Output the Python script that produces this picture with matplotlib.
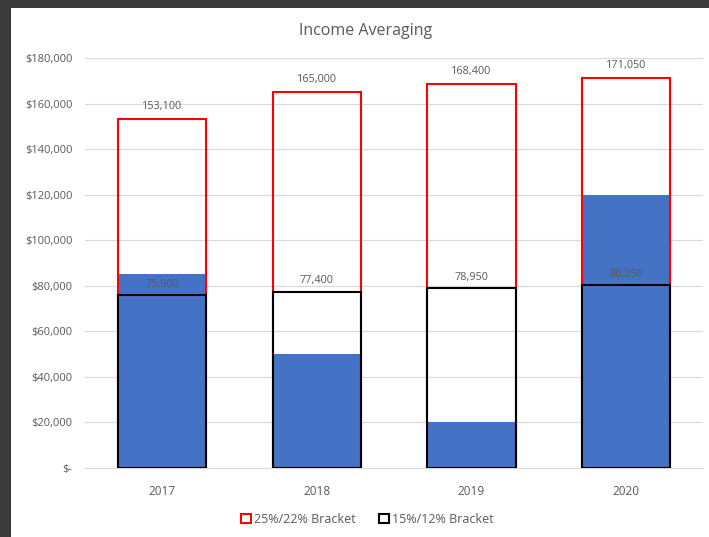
import matplotlib.pyplot as plt
from matplotlib.patches import Patch
from matplotlib.ticker import FuncFormatter

plt.rcParams['font.family'] = ['Open Sans', 'DejaVu Sans']

years = ['2017', '2018', '2019', '2020']
income = [85000, 50000, 20000, 120000]
bracket_25 = [153100, 165000, 168400, 171050]
bracket_15 = [75900, 77400, 78950, 80250]

label_color = '#595959'

fig = plt.figure(figsize=(7.09, 5.37), dpi=100)
fig.patch.set_facecolor('#3a3a3a')
# white chart area inside the dark frame
bg = fig.add_axes([11 / 709, 0, 1, 529 / 537], zorder=-1)
bg.set_facecolor('white')
bg.set_xticks([])
bg.set_yticks([])
for s in bg.spines.values():
    s.set_visible(False)

ax = fig.add_axes([0.12, 0.1285, 0.872, 0.7635], zorder=1)
ax.set_facecolor('none')

x = range(len(years))
w = 0.57
ax.bar(x, income, width=w, color='#4472c4', zorder=2)
ax.bar(x, bracket_25, width=w, facecolor='none', edgecolor='#ff0000', linewidth=1.5, zorder=3)
ax.bar(x, bracket_15, width=w, facecolor='none', edgecolor='#000000', linewidth=1.5, zorder=4)

for i in x:
    ax.annotate(f'{bracket_25[i]:,}', (i, bracket_25[i]), xytext=(0, 5), textcoords='offset points',
                ha='center', va='bottom', fontsize=7.8, color=label_color, zorder=5)
    ax.annotate(f'{bracket_15[i]:,}', (i, bracket_15[i]), xytext=(0, 4), textcoords='offset points',
                ha='center', va='bottom', fontsize=7.8, color=label_color, zorder=5)

ax.set_xlim(-0.5, 3.5)
ax.set_ylim(0, 180000)
ax.set_yticks(range(0, 180001, 20000))
ax.yaxis.set_major_formatter(FuncFormatter(lambda v, p: '$-' if v == 0 else f'${v:,.0f}'))
ax.set_xticks(list(x))
ax.set_xticklabels(years)
ax.tick_params(axis='y', length=0, labelsize=8, labelcolor=label_color, pad=9)
ax.tick_params(axis='x', length=0, labelsize=8.5, labelcolor=label_color, pad=12)

ax.grid(axis='y', color='#d9d9d9', linewidth=0.8, zorder=0)
ax.set_axisbelow(True)
for s in ['top', 'right', 'left']:
    ax.spines[s].set_visible(False)
ax.spines['bottom'].set_color('#d9d9d9')

fig.text(0.515, 0.943, 'Income Averaging', ha='center', va='center', fontsize=11.5, color=label_color)

handles = [Patch(facecolor='white', edgecolor='#ff0000', linewidth=1.5, label='25%/22% Bracket'),
           Patch(facecolor='white', edgecolor='#000000', linewidth=1.5, label='15%/12% Bracket')]
fig.legend(handles=handles, loc='center', bbox_to_anchor=(0.518, 0.033), ncol=2, frameon=False,
           fontsize=9, labelcolor=label_color, handlelength=0.8, handleheight=0.8,
           handletextpad=0.3, columnspacing=1.8)

fig.savefig('out.png', dpi=100, facecolor=fig.get_facecolor())
